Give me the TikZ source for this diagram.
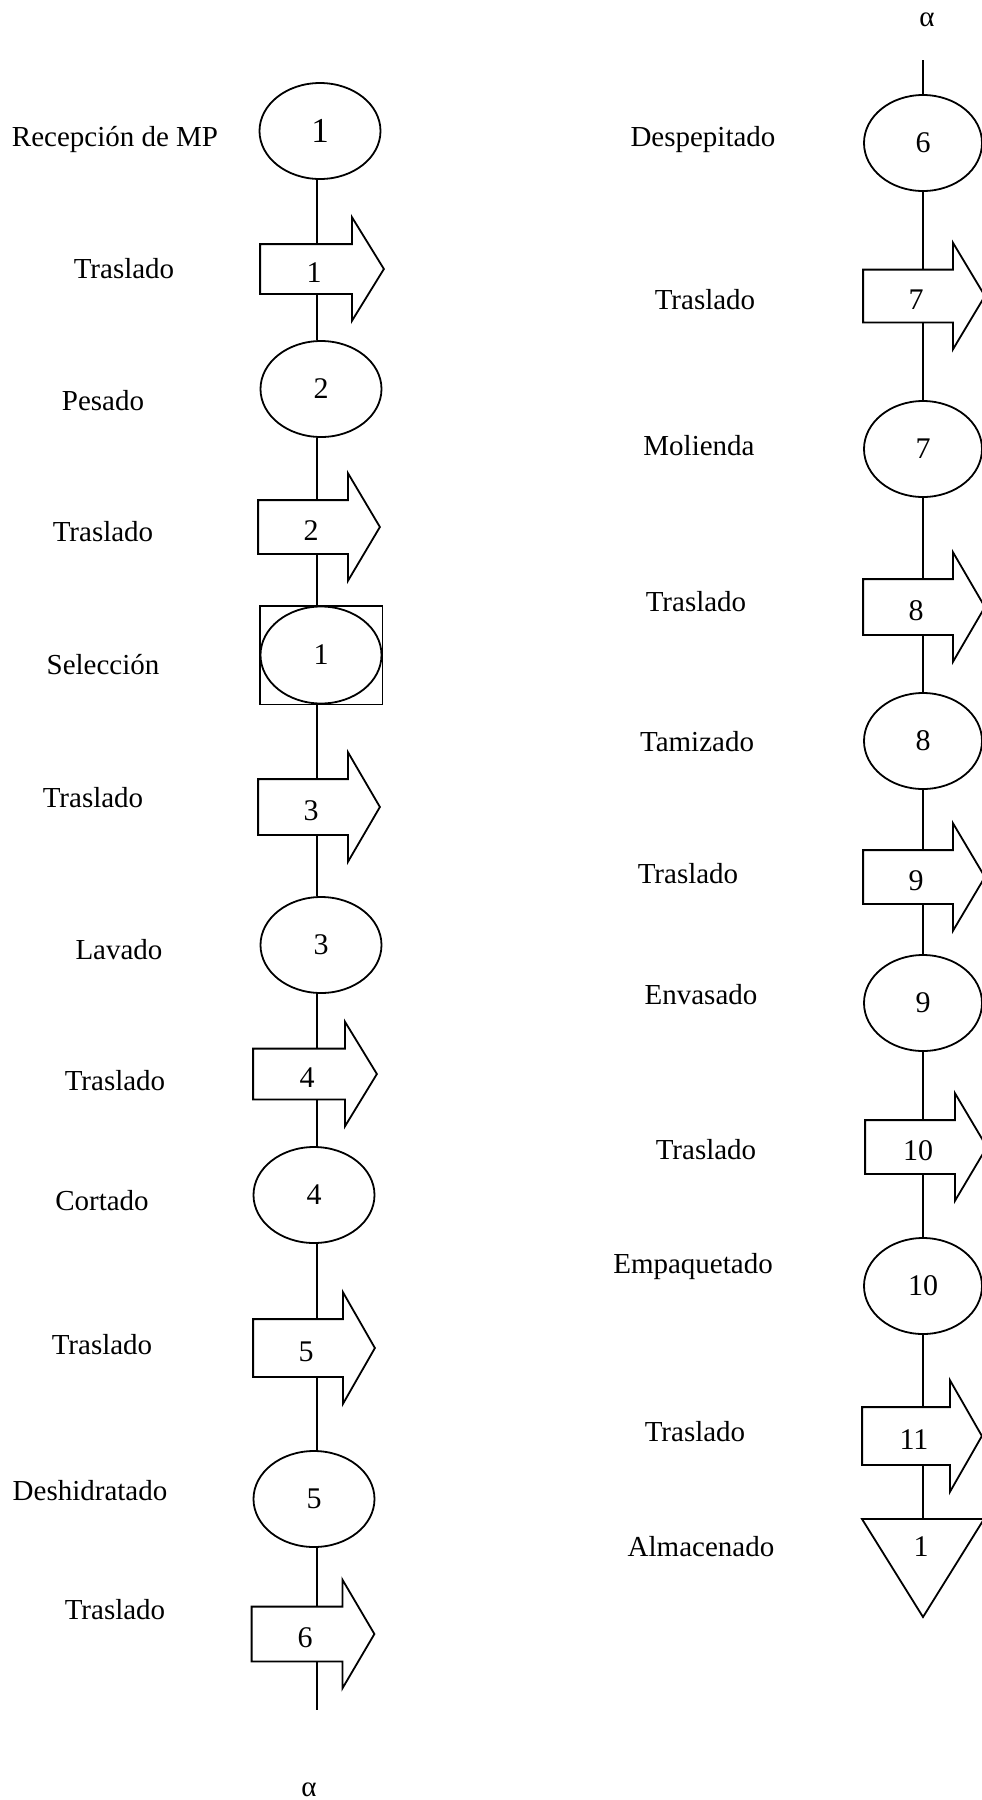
\documentclass[tikz,border=0pt]{standalone}
\usepackage{fontspec}
\setmainfont{Liberation Serif}
\usetikzlibrary{calc,shapes.geometric}

% transport step: rectangular body with an arrow head on its right side
\newcommand\transp[6]{%
  \node[tbody, minimum width=#4pt, minimum height=#5pt,
        label={[tnum]center:#6}] (#1) at (#2,#3) {};
  \draw (#1.south west) -- (#1.north west) -- (#1.north east) -- ++(0,-27)
        -- ($(#1.east)+(32,0)$) -- ($(#1.south east)+(0,27)$) -- (#1.south east) -- cycle;
}

\begin{document}
\begin{tikzpicture}[x=1pt, y=-1pt, line width=1.8pt,
  lbl/.style={font=\fontsize{29}{34}\selectfont, inner sep=0pt},
  op/.style={draw, ellipse, minimum width=121pt, minimum height=96pt, inner sep=0pt,
             font=\fontsize{30}{36}\selectfont},
  opR/.style={op, minimum width=118pt},
  tbody/.style={inner sep=0pt},
  tnum/.style={inner sep=0pt, xshift=8pt, yshift=-4pt, font=\fontsize{30}{36}\selectfont}]
\useasboundingbox (0,0) rectangle (982,1800);
\clip (0,0) rectangle (982,1800);

% ---------- left column ----------
\coordinate (colL) at (317,0);
\coordinate (endL) at (317,1710);

\node[op, font=\fontsize{35}{42}\selectfont] (o1) at (320,131) {1};
\transp{t1}{306}{269}{90}{48}{1}
\node[op] (o2) at (321,389) {2};
\transp{t2}{303}{527}{88}{52}{2}
% combined operation-inspection: ellipse inscribed in a square frame
\node[minimum width=121pt, minimum height=97pt, inner sep=0pt,
      font=\fontsize{30}{36}\selectfont] (s1) at (321,655) {1};
\draw (s1.north west) -- (s1.north east) -- (s1.south east) -- (s1.south west) -- cycle;
\draw (s1.center) ellipse [x radius=60.5pt, y radius=48.5pt];
\transp{t3}{303}{807}{88}{54}{3}
\node[op] (o3) at (321,945) {3};
\transp{t4}{299}{1074}{90}{49}{4}
\node[op] (o4) at (314,1195) {4};
\transp{t5}{298}{1348}{88}{56}{5}
\node[op] (o5) at (314,1499) {5};
\transp{t6}{297}{1634}{89}{53}{6}

\foreach \a/\b in {o1/t1, t1/o2, o2/t2, t2/s1, s1/t3, t3/o3, o3/t4, t4/o4, o4/t5, t5/o5, o5/t6}
  \draw (colL |- \a.south) -- (colL |- \b.north);
\draw (colL |- t6.south) -- (endL);

\node[lbl] (aL) at (309,1790) {α};

\node[lbl] (l1)  at (115,139)  {Recepción de MP};
\node[lbl] (l2)  at (124,269)  {Traslado};
\node[lbl] (l3)  at (103,401)  {Pesado};
\node[lbl] (l4)  at (103,532)  {Traslado};
\node[lbl] (l5)  at (103,665)  {Selección};
\node[lbl] (l6)  at (93,798)   {Traslado};
\node[lbl] (l7)  at (119,950)  {Lavado};
\node[lbl] (l8)  at (115,1081) {Traslado};
\node[lbl] (l9)  at (102,1201) {Cortado};
\node[lbl] (l10) at (102,1345) {Traslado};
\node[lbl] (l11) at (90,1491)  {Deshidratado};
\node[lbl] (l12) at (115,1610) {Traslado};

% ---------- right column ----------
\coordinate (colR) at (923,0);
\coordinate (startR) at (923,60);

\node[opR] (o6) at (923,143) {6};
\transp{t7}{908}{296}{88}{51}{7}
\node[opR] (o7) at (923,449) {7};
\transp{t8}{908}{607}{88}{54}{8}
\node[opR] (o8) at (923,741) {8};
\transp{t9}{908}{877}{88}{52}{9}
\node[opR] (o9) at (923,1003) {9};
\transp{t10}{910}{1147}{88}{52}{10}
\node[opR] (o10) at (923,1286) {10};
\transp{t11}{906}{1436}{86}{56}{11}

% storage triangle
\coordinate (tritop) at (923,1519);
\node[inner sep=0pt, font=\fontsize{30}{36}\selectfont] (st1) at (921,1547) {1};
\draw ($(tritop)+(-61,0)$) -- ($(tritop)+(61,0)$) -- ($(tritop)+(0,98)$) -- cycle;

\draw (startR) -- (colR |- o6.north);
\foreach \a/\b in {o6/t7, t7/o7, o7/t8, t8/o8, o8/t9, t9/o9, o9/t10, t10/o10, o10/t11}
  \draw (colR |- \a.south) -- (colR |- \b.north);
\draw (colR |- t11.south) -- (tritop);

\node[lbl] (aR) at (927,20) {α};

\node[lbl] (r1)  at (703,140)  {Despepitado};
\node[lbl] (r2)  at (705,300)  {Traslado};
\node[lbl] (r3)  at (699,446)  {Molienda};
\node[lbl] (r4)  at (696,602)  {Traslado};
\node[lbl] (r5)  at (697,742)  {Tamizado};
\node[lbl] (r6)  at (688,874)  {Traslado};
\node[lbl] (r7)  at (701,995)  {Envasado};
\node[lbl] (r8)  at (706,1150) {Traslado};
\node[lbl] (r9)  at (693,1267) {Empaquetado};
\node[lbl] (r10) at (695,1432) {Traslado};
\node[lbl] (r11) at (701,1547) {Almacenado};
\end{tikzpicture}
\end{document}
